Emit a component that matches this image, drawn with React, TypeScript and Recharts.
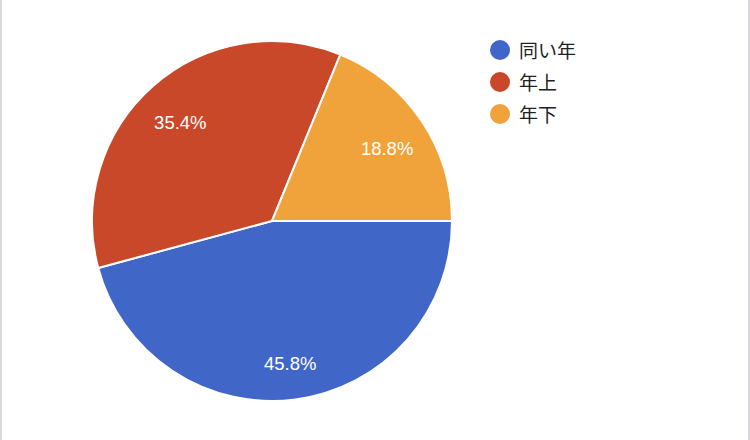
import { Cell, Pie, PieChart } from "recharts";

const categories = ["同い年", "年上", "年下"];
const shares = [45.8, 35.4, 18.8];
const colors = ["#4066c8", "#c94829", "#f0a23b"];

const data = categories.map((name, i) => ({ name, value: shares[i] }));

const RAD = Math.PI / 180;

function renderLabel(props: any) {
  const { cx, cy, midAngle, outerRadius, value } = props;
  const r = outerRadius * 0.77;
  const x = cx + r * Math.cos(-midAngle * RAD);
  const y = cy + r * Math.sin(-midAngle * RAD) + 5;
  return (
    <text x={x} y={y} fill="#ffffff" fontSize={18.5} textAnchor="middle" dominantBaseline="central" fontFamily="'Liberation Sans', Arial, sans-serif">
      {`${value.toFixed(1)}%`}
    </text>
  );
}

function LegendList() {
  return (
    <ul style={{ listStyle: "none", margin: 0, padding: 0 }}>
      {categories.map((c, i) => (
        <li key={c} style={{ display: "flex", alignItems: "center", height: 32 }}>
          <span style={{ width: 20, height: 20, borderRadius: "50%", background: colors[i], display: "inline-block", marginRight: 9 }} />
          <span style={{ fontSize: 19, color: "#222", fontFamily: "'Noto Sans CJK JP', sans-serif", lineHeight: "20px" }}>{c}</span>
        </li>
      ))}
    </ul>
  );
}

export default function App() {
  return (
    <div style={{ position: "absolute", left: 0, top: 0, width: 750, height: 440, background: "#fff" }}>
      <style>{`body{margin:0}`}</style>
      <div style={{ position: "absolute", left: 0, top: 0, width: 2, height: 440, background: "#d9d8de" }} />
      <div style={{ position: "absolute", right: 0, top: 0, width: 2, height: 440, background: "#d9d8de" }} />
      <PieChart width={750} height={440} margin={{ top: 0, right: 0, bottom: 0, left: 0 }}>
        <Pie
          data={data}
          dataKey="value"
          nameKey="name"
          cx={272}
          cy={221}
          outerRadius={180}
          startAngle={0}
          endAngle={-360}
          stroke="#ffffff"
          strokeWidth={2}
          label={renderLabel}
          labelLine={false}
          isAnimationActive={false}
        >
          {data.map((d, i) => (
            <Cell key={d.name} fill={colors[i]} />
          ))}
        </Pie>
      </PieChart>
      <div style={{ position: "absolute", left: 490, top: 34 }}>
        <LegendList />
      </div>
    </div>
  );
}
